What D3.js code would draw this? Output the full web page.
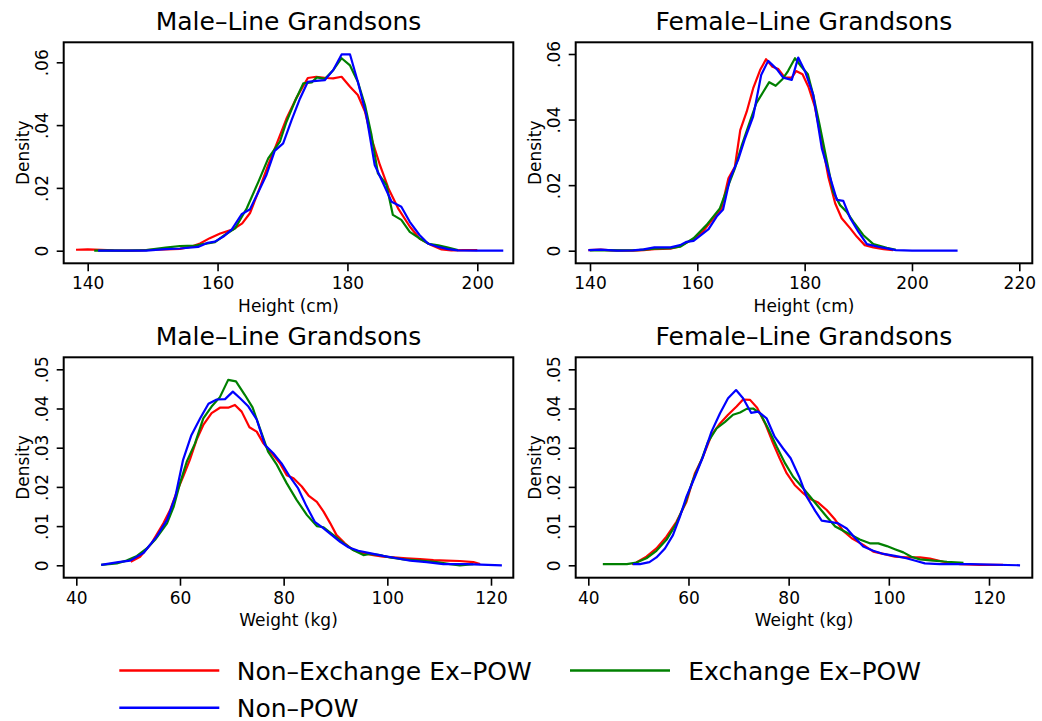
<!DOCTYPE html>
<html><head><meta charset="utf-8">
<script src="https://cdn.jsdelivr.net/npm/d3@7"></script>
<style>body{margin:0;background:#fff}svg{display:block}</style>
</head><body><svg id="c" width="1042" height="721"></svg>
<script>
// ---------------- DATA ----------------
const panelTitles = ["Male–Line Grandsons", "Female–Line Grandsons", "Male–Line Grandsons", "Female–Line Grandsons"];
const xAxisTitles = ["Height (cm)", "Height (cm)", "Weight (kg)", "Weight (kg)"];
const yAxisTitle = "Density";
const seriesNames = ["Non–Exchange Ex–POW", "Exchange Ex–POW", "Non–POW"];

const heightTicksMale = [140, 160, 180, 200];
const heightTicksFemale = [140, 160, 180, 200, 220];
const weightTicks = [40, 60, 80, 100, 120];
const heightDensityTicks = [0, 0.02, 0.04, 0.06];
const heightDensityLabels = ["0", ".02", ".04", ".06"];
const weightDensityTicks = [0, 0.01, 0.02, 0.03, 0.04, 0.05];
const weightDensityLabels = ["0", ".01", ".02", ".03", ".04", ".05"];

// Height, male-line grandsons
const heightMaleNonExch = [[138.2,0.0003],[140,0.0004],[142,0.0003],[144,0.0001],[146,0],[148,0.0001],[150,0.0003],[152,0.0004],[154.2,0.0006],[156,0.0013],[157.3,0.0023],[158.8,0.004],[160.4,0.0055],[162.4,0.0068],[163.8,0.0087],[165.0,0.012],[166.5,0.020],[167.8,0.0273],[169.1,0.034],[170.6,0.042],[172.1,0.0485],[173.9,0.055],[175.2,0.0554],[176.8,0.055],[177.8,0.0549],[179.1,0.0554],[180.4,0.0522],[181.6,0.0496],[182.7,0.0443],[183.7,0.0358],[185.0,0.0273],[186.3,0.0199],[187.8,0.0135],[189.6,0.0077],[191.1,0.0039],[192.7,0.002],[194.5,0.0004],[196,0.0001],[198,0.0002],[200,0.0002]];
const heightMaleExch = [[141,0],[143,0.0001],[146,0],[149,0.0002],[152,0.001],[154.2,0.0015],[156.5,0.0016],[158,0.0022],[159.6,0.0027],[161.1,0.005],[162.7,0.0071],[164.5,0.0135],[166.3,0.022],[167.8,0.0294],[169.6,0.0347],[170.6,0.041],[171.9,0.0475],[173.2,0.0533],[174.5,0.0536],[175.3,0.0552],[176.5,0.0547],[177.8,0.0575],[179.1,0.0613],[180.4,0.059],[181.6,0.0538],[182.7,0.0464],[183.7,0.0369],[184.7,0.0246],[186.0,0.021],[187.0,0.0114],[188.3,0.0098],[189.6,0.006],[191.1,0.0039],[192.5,0.0022],[194,0.0017],[195.5,0.001],[197,0.0002]];
const heightMaleNonPow = [[141.6,0],[145,0],[149,0],[152,0.0005],[154.2,0.0007],[157,0.0012],[158.5,0.0025],[159.6,0.0029],[160.9,0.0045],[162.2,0.0068],[163.7,0.0116],[165.0,0.0132],[166.3,0.0188],[167.5,0.024],[168.8,0.0318],[170.1,0.0342],[171.4,0.0416],[172.7,0.0485],[173.9,0.0538],[175.2,0.0541],[176.5,0.0543],[177.8,0.0575],[179.1,0.0625],[180.4,0.0625],[181.6,0.0538],[182.9,0.0432],[184.2,0.0273],[185.5,0.0215],[186.8,0.0156],[188.3,0.014],[189.6,0.0092],[191.1,0.005],[192.4,0.0023],[194,0.0012],[195.5,0.0005],[197,0.0001],[200,0],[204,0]];

// Height, female-line grandsons
const heightFemaleNonExch = [[139.7,0.0002],[142,0.0003],[144,0.0001],[146,0],[148,0],[150,0.0002],[152,0.0005],[155,0.0006],[156.8,0.0014],[159.3,0.0036],[161.1,0.006],[163.0,0.0099],[164.5,0.0129],[165.8,0.0221],[167.0,0.0256],[168.0,0.0368],[169.2,0.0424],[170.4,0.0495],[171.7,0.0551],[172.8,0.0584],[174.0,0.0561],[175.1,0.0554],[176.3,0.0528],[177.6,0.0528],[178.4,0.0548],[179.6,0.0538],[180.7,0.05],[181.9,0.0439],[183.2,0.0333],[184.4,0.0226],[185.7,0.0144],[186.9,0.0099],[188.5,0.0068],[189.7,0.0043],[191.2,0.0017],[192.8,0.001],[194.7,0.0005],[196.5,0.0002]];
const heightFemaleExch = [[140,0.0001],[143,0.0002],[146,0.0001],[149,0.0002],[152,0.0006],[155,0.0008],[156.8,0.0012],[159.3,0.0038],[161.7,0.0078],[164.2,0.0129],[165.8,0.02],[167.0,0.0251],[168.3,0.0322],[169.8,0.0394],[171.0,0.045],[172.3,0.0485],[173.4,0.0514],[174.6,0.0503],[175.9,0.0524],[176.9,0.0548],[178.2,0.0587],[179.4,0.0561],[180.6,0.0538],[181.6,0.0475],[182.8,0.0383],[184.1,0.0277],[185.3,0.018],[186.6,0.0139],[187.8,0.0119],[189.1,0.0088],[190.9,0.0048],[192.8,0.002],[195.3,0.0009],[197,0.0003]];
const heightFemaleNonPow = [[139.7,0.0002],[142,0.0003],[145,0],[148,0.0001],[150,0.0004],[152,0.001],[155,0.001],[156.8,0.0017],[158,0.0027],[159.3,0.003],[162.1,0.0066],[163.6,0.0104],[164.8,0.0126],[166.1,0.0221],[167.6,0.0277],[168.9,0.0343],[170.4,0.0409],[171.9,0.0536],[173.2,0.0579],[174.8,0.0554],[176.0,0.0528],[177.6,0.0521],[178.8,0.0589],[180.1,0.0546],[181.6,0.0475],[183.2,0.0312],[184.7,0.0226],[186.0,0.0155],[187.2,0.0152],[188.5,0.0099],[190.0,0.0058],[191.6,0.002],[193.7,0.0012],[195.3,0.0007],[197,0.0002],[200,0],[204,0],[208.5,0]];

// Weight, male-line grandsons
const weightMaleNonExch = [[50.5,0.0009],[52.3,0.0022],[54.5,0.0056],[56.8,0.0107],[58.1,0.0141],[59.4,0.0188],[60.6,0.0226],[61.9,0.0269],[63.2,0.032],[64.5,0.0358],[66.1,0.0388],[67.7,0.0402],[69.3,0.0402],[70.6,0.0409],[71.9,0.0392],[73.4,0.0352],[74.8,0.0341],[76.1,0.0311],[77.7,0.0286],[79.3,0.026],[80.6,0.023],[81.9,0.0222],[83.5,0.0201],[84.8,0.0178],[86.4,0.0162],[87.7,0.0137],[89.0,0.0107],[90.2,0.0077],[91.8,0.0056],[93.4,0.0039],[95.4,0.0031],[97.3,0.0026],[99.2,0.0022],[101.2,0.002],[103.7,0.0018],[106.3,0.0016],[108.9,0.0013],[111.4,0.0012],[114.0,0.0011],[116.6,0.0008],[117.9,0.0003]];
const weightMaleExch = [[44.8,0.0001],[47.8,0.0005],[49.7,0.0012],[51.7,0.0024],[53.6,0.0043],[55.2,0.0065],[57.5,0.0107],[58.8,0.015],[60.0,0.0209],[61.3,0.0264],[62.9,0.0311],[64.5,0.0375],[66.1,0.0405],[67.7,0.0429],[69.3,0.0473],[70.8,0.0469],[72.5,0.0435],[74.0,0.0403],[75.4,0.035],[77.0,0.029],[78.7,0.0256],[80.6,0.0209],[82.5,0.0167],[84.5,0.0128],[86.4,0.01],[87.7,0.0097],[89.6,0.0077],[91.6,0.0056],[93.4,0.0039],[95.4,0.0026],[96.6,0.0029],[98.6,0.0026],[100.5,0.002],[103.1,0.0015],[106.3,0.0012],[109.5,0.0008],[112.1,0.0003],[114.0,0.0],[116.6,0.0003]];
const weightMaleNonPow = [[44.8,0.0001],[48.1,0.0008],[50.4,0.0012],[53.0,0.0032],[55.5,0.0073],[57.5,0.0116],[59.1,0.0175],[60.6,0.0269],[62.2,0.0332],[63.9,0.0375],[65.5,0.0412],[67.1,0.0423],[68.7,0.0424],[70.2,0.0443],[71.6,0.0426],[73.2,0.0405],[74.8,0.0372],[76.4,0.0307],[78.0,0.0286],[79.6,0.026],[81.2,0.0226],[82.8,0.0196],[84.4,0.0151],[86.0,0.0111],[87.7,0.0094],[89.3,0.0077],[90.9,0.006],[92.5,0.0046],[94.4,0.0037],[96.6,0.0031],[99.2,0.0024],[101.8,0.0018],[104.4,0.0012],[107.6,0.0008],[110.8,0.0003],[115.3,0.0003],[122.1,0.0]];

// Weight, female-line grandsons
const weightFemaleNonExch = [[48.7,0.0003],[49.6,0.0007],[51.6,0.0022],[53.6,0.0043],[55.6,0.0073],[57.6,0.0111],[59.6,0.0162],[61.3,0.0235],[62.9,0.0277],[64.6,0.0332],[66.3,0.0362],[67.9,0.0384],[69.6,0.0405],[70.9,0.0423],[72.3,0.0422],[73.7,0.0402],[75.3,0.0362],[76.9,0.0311],[78.2,0.0273],[79.6,0.0235],[81.2,0.0205],[82.9,0.0184],[84.3,0.0169],[85.9,0.016],[87.6,0.0141],[89.3,0.0116],[90.9,0.0088],[92.6,0.0069],[94.9,0.0052],[96.9,0.0035],[98.9,0.0029],[101.2,0.0022],[103.5,0.002],[106.2,0.002],[108.2,0.0017],[110.9,0.0009],[114.2,0.0003],[118.2,0.0001],[122.8,0.0001]];
const weightFemaleExch = [[42.9,0.0003],[45.7,0.0003],[47.7,0.0003],[49.6,0.0007],[51.6,0.0018],[53.6,0.0037],[55.6,0.0065],[57.6,0.0107],[59.3,0.0158],[60.9,0.0218],[62.6,0.0269],[63.9,0.0315],[65.6,0.0349],[67.3,0.0366],[68.9,0.0384],[70.3,0.039],[71.6,0.0399],[72.9,0.04],[74.3,0.0388],[75.9,0.0349],[77.6,0.0303],[79.3,0.026],[80.9,0.0226],[82.6,0.0201],[84.3,0.0175],[85.9,0.015],[87.6,0.0124],[89.3,0.0099],[90.9,0.0088],[92.6,0.0077],[94.2,0.0066],[96.2,0.0056],[97.9,0.0056],[99.6,0.0049],[101.2,0.0041],[102.9,0.0033],[104.5,0.0022],[106.2,0.0015],[108.9,0.0012],[111.6,0.0009],[114.2,0.0007],[114.9,0.0006]];
const weightFemaleNonPow = [[48.9,0.0003],[50.3,0.0003],[52.2,0.0008],[53.6,0.002],[55.3,0.0043],[56.9,0.0077],[58.3,0.0124],[59.6,0.0175],[61.3,0.0226],[62.9,0.0277],[64.6,0.0341],[66.3,0.0388],[67.9,0.0426],[69.5,0.0447],[70.9,0.0426],[72.5,0.0389],[73.9,0.0392],[75.6,0.0375],[77.2,0.0328],[78.9,0.0298],[80.4,0.0273],[82.1,0.0226],[83.6,0.0175],[85.3,0.0139],[86.6,0.0114],[88.2,0.0111],[89.9,0.0107],[91.6,0.0094],[93.3,0.0069],[94.9,0.0048],[96.9,0.0037],[98.9,0.0029],[101.2,0.0024],[103.5,0.0018],[105.5,0.0011],[107.2,0.0005],[110.2,0.0003],[116.2,0.0003],[126.2,0.0]];

// ---------------- DRAWING ----------------
const FONT = "'DejaVu Sans', 'Liberation Sans', sans-serif";
const COLORS = ["#ff0000", "#008000", "#0000ff"];
const svg = d3.select("#c");
svg.append("rect").attr("width", 1042).attr("height", 721).attr("fill", "#fff");

const panels = [
  { frame: [63.7, 42.3, 513.3, 263.3], xDom: [140, 200], xRange: [87.7, 477.3], yDom: [0, 0.06], yRange: [250.7, 62.3],
    xTicks: heightTicksMale, yTicks: heightDensityTicks, yLabels: heightDensityLabels,
    series: [heightMaleNonExch, heightMaleExch, heightMaleNonPow] },
  { frame: [575.7, 42.3, 1032.3, 263.3], xDom: [140, 220], xRange: [590, 1019.3], yDom: [0, 0.06], yRange: [250.7, 54],
    xTicks: heightTicksFemale, yTicks: heightDensityTicks, yLabels: heightDensityLabels,
    series: [heightFemaleNonExch, heightFemaleExch, heightFemaleNonPow] },
  { frame: [63.7, 357.3, 513.3, 577.7], xDom: [40, 120], xRange: [76.3, 491], yDom: [0, 0.05], yRange: [565.3, 369.3],
    xTicks: weightTicks, yTicks: weightDensityTicks, yLabels: weightDensityLabels,
    series: [weightMaleNonExch, weightMaleExch, weightMaleNonPow] },
  { frame: [575.7, 357.3, 1032.3, 577.7], xDom: [40, 120], xRange: [588.3, 989], yDom: [0, 0.05], yRange: [565.3, 369.3],
    xTicks: weightTicks, yTicks: weightDensityTicks, yLabels: weightDensityLabels,
    series: [weightFemaleNonExch, weightFemaleExch, weightFemaleNonPow] }
];

panels.forEach((p, i) => {
  const [x0, y0, x1, y1] = p.frame;
  const cx = (x0 + x1) / 2, cy = (y0 + y1) / 2;
  const x = d3.scaleLinear().domain(p.xDom).range(p.xRange);
  const y = d3.scaleLinear().domain(p.yDom).range(p.yRange);
  const g = svg.append("g");

  // title
  g.append("text").attr("x", cx).attr("y", y0 - 12.5).attr("text-anchor", "middle")
    .attr("font-family", FONT).attr("font-size", 25).attr("fill", "#000").text(panelTitles[i]);

  // x axis
  const xa = g.append("g").attr("transform", `translate(0,${y1})`)
    .call(d3.axisBottom(x).tickValues(p.xTicks).tickFormat(d3.format("d")).tickSize(8).tickSizeOuter(0));
  xa.select(".domain").remove();
  xa.selectAll(".tick line").attr("stroke", "#000").attr("stroke-width", 1.6);
  xa.selectAll(".tick text").attr("y", 26).attr("dy", null)
    .attr("font-family", FONT).attr("font-size", 17).attr("fill", "#000");

  // y axis
  const ya = g.append("g").attr("transform", `translate(${x0},0)`)
    .call(d3.axisLeft(y).tickValues(p.yTicks).tickFormat((d, k) => p.yLabels[k]).tickSize(7).tickSizeOuter(0));
  ya.select(".domain").remove();
  ya.selectAll(".tick line").attr("stroke", "#000").attr("stroke-width", 1.6);
  ya.selectAll(".tick text").attr("x", null).attr("dy", null).attr("text-anchor", "middle")
    .attr("transform", "translate(-15.5,0) rotate(-90)")
    .attr("font-family", FONT).attr("font-size", 17).attr("fill", "#000");

  // axis titles
  g.append("text").attr("x", cx).attr("y", y1 + 48.4).attr("text-anchor", "middle")
    .attr("font-family", FONT).attr("font-size", 17).attr("fill", "#000").text(xAxisTitles[i]);
  g.append("text").attr("transform", `translate(${x0 - 34.5},${cy}) rotate(-90)`).attr("text-anchor", "middle")
    .attr("font-family", FONT).attr("font-size", 17).attr("fill", "#000").text(yAxisTitle);

  // lines
  const line = d3.line().x(d => x(d[0])).y(d => y(d[1]));
  p.series.forEach((s, k) => {
    g.append("path").datum(s).attr("d", line).attr("fill", "none")
      .attr("stroke", COLORS[k]).attr("stroke-width", 2.2).attr("stroke-linejoin", "round");
  });

  // frame
  g.append("rect").attr("x", x0).attr("y", y0).attr("width", x1 - x0).attr("height", y1 - y0)
    .attr("fill", "none").attr("stroke", "#000").attr("stroke-width", 2);
});

// legend
const legendItems = [
  { name: seriesNames[0], color: COLORS[0], lx: 119.3, ly: 670.5, tx: 236.7, ty: 680 },
  { name: seriesNames[1], color: COLORS[1], lx: 570, ly: 670.5, tx: 688.3, ty: 680 },
  { name: seriesNames[2], color: COLORS[2], lx: 119.3, ly: 707.7, tx: 236.7, ty: 716.8 }
];
const leg = svg.append("g");
legendItems.forEach(it => {
  leg.append("line").attr("x1", it.lx).attr("x2", it.lx + 100).attr("y1", it.ly).attr("y2", it.ly)
    .attr("stroke", it.color).attr("stroke-width", 2.4);
  leg.append("text").attr("x", it.tx).attr("y", it.ty)
    .attr("font-family", FONT).attr("font-size", 25).attr("fill", "#000").text(it.name);
});
</script>
</body></html>
